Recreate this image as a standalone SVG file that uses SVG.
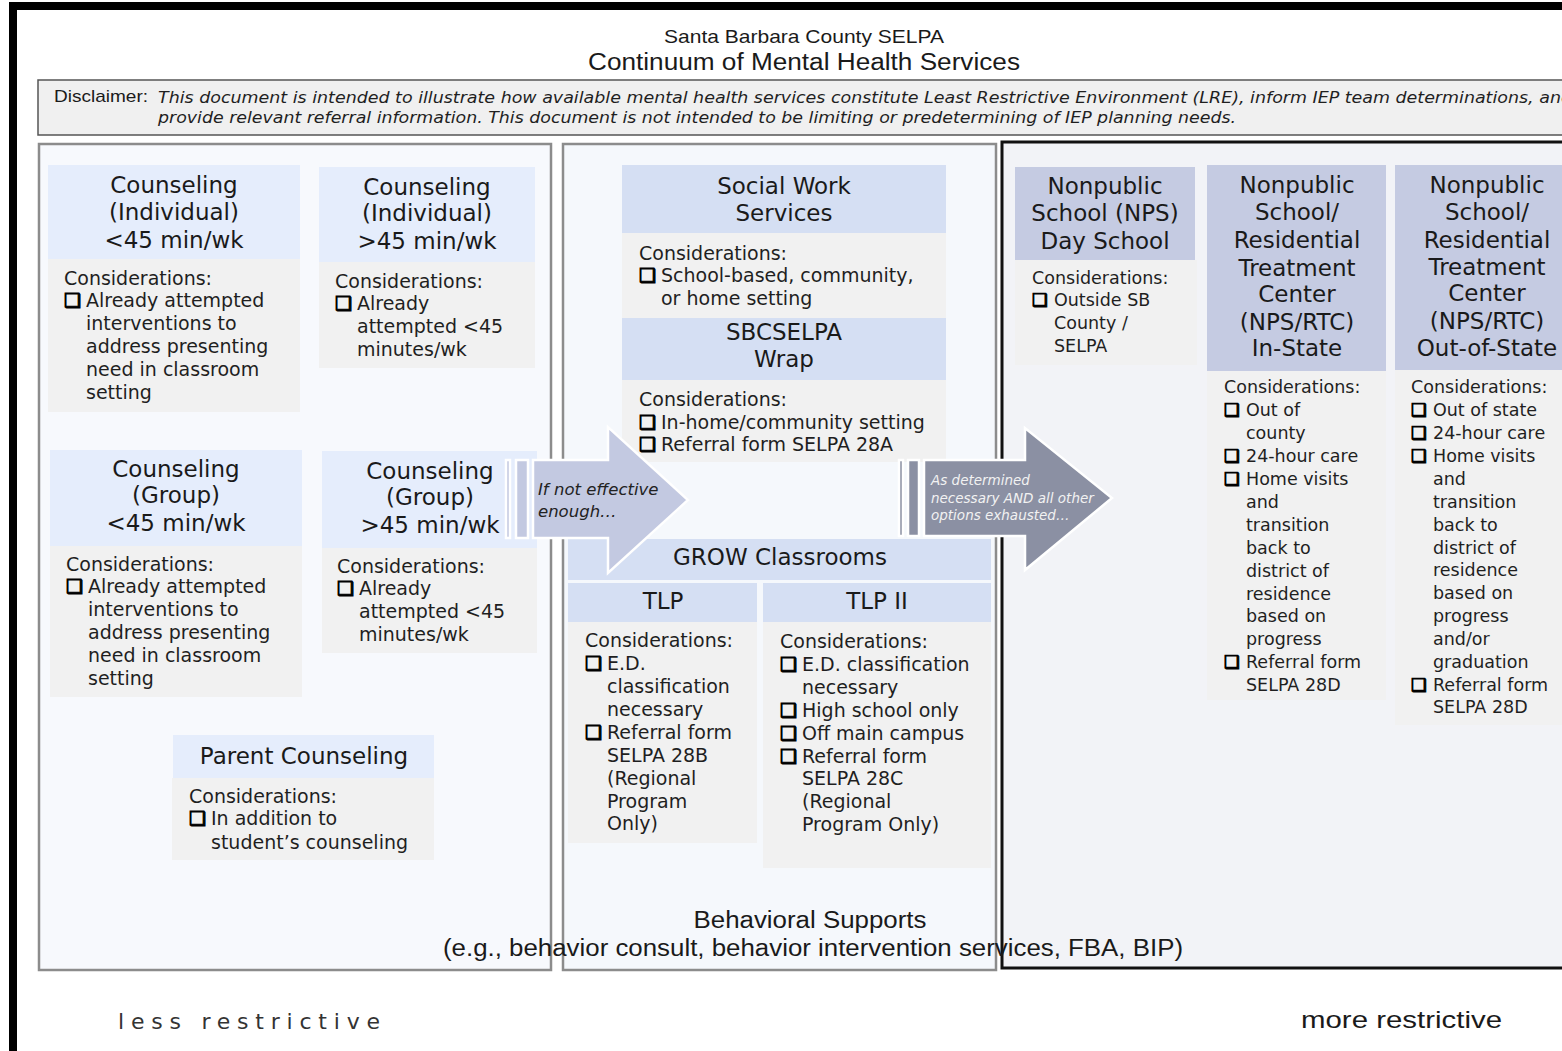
<svg xmlns="http://www.w3.org/2000/svg" width="1562" height="1051" viewBox="0 0 1562 1051">
<style>
.h{font-family:"DejaVu Sans",sans-serif;font-size:23px;fill:#1a1a1a;text-anchor:middle}
.b{font-family:"DejaVu Sans",sans-serif;font-size:19px;fill:#1f1f1f}
.r{font-family:"DejaVu Sans",sans-serif;font-size:17.5px;fill:#1f1f1f}
.c{font-family:"DejaVu Sans",sans-serif;font-weight:bold;fill:#000;stroke:#000;stroke-width:1.1}
.hb{fill:#e5edfc}
.hm{fill:#d5dff3}
.hr{fill:#c5cbe2}
.bd{fill:#f1f1f1}
.t{font-family:"Liberation Sans",sans-serif;fill:#1a1a1a}
.it{font-family:"DejaVu Sans",sans-serif;font-style:italic}
</style>
<rect x="0" y="0" width="1562" height="1051" fill="#ffffff"/>
<rect x="13" y="6" width="1600" height="1100" fill="#ffffff" stroke="#000" stroke-width="8"/>

<g id="title">
<text class="t" x="804" y="43" font-size="19" text-anchor="middle" textLength="280" lengthAdjust="spacingAndGlyphs">Santa Barbara County SELPA</text>
<text class="t" x="804" y="70" font-size="23" text-anchor="middle" textLength="432" lengthAdjust="spacingAndGlyphs">Continuum of Mental Health Services</text>
</g>

<g id="disclaimer">
<rect x="38" y="80" width="1540" height="55" fill="#f0f0f0" stroke="#555" stroke-width="1.5"/>
<text class="t" x="54" y="102" font-size="17" textLength="94" lengthAdjust="spacingAndGlyphs" fill="#000">Disclaimer:</text>
<text class="it" x="158" y="103" font-size="16" fill="#1f1f1f" textLength="1414" lengthAdjust="spacingAndGlyphs">This document is intended to illustrate how available mental health services constitute Least Restrictive Environment (LRE), inform IEP team determinations, and</text>
<text class="it" x="158" y="123" font-size="16" fill="#1f1f1f" textLength="1078" lengthAdjust="spacingAndGlyphs">provide relevant referral information. This document is not intended to be limiting or predetermining of IEP planning needs.</text>
</g>

<g id="panels">
<rect x="39" y="144" width="512" height="826" fill="#f7f9fd" stroke="#8c8c8c" stroke-width="2.5"/>
<rect x="563" y="144" width="433" height="826" fill="#f5f8fc" stroke="#8c8c8c" stroke-width="2.5"/>
<rect x="1002" y="142" width="600" height="826" fill="#f2f3f7" stroke="#111" stroke-width="3"/>
</g>

<g id="node-ind-lt45">
<rect class="hb" x="48" y="165" width="252" height="94"/>
<rect class="bd" x="48" y="259" width="252" height="153"/>
<text class="h" x="174" y="193">Counseling</text>
<text class="h" x="174" y="220">(Individual)</text>
<text class="h" x="174" y="248">&lt;45 min/wk</text>
<text class="b" x="64" y="285">Considerations:</text>
<text class="b c" x="64" y="307">❑</text><text class="b" x="86" y="307">Already attempted</text>
<text class="b" x="86" y="330">interventions to</text>
<text class="b" x="86" y="353">address presenting</text>
<text class="b" x="86" y="376">need in classroom</text>
<text class="b" x="86" y="399">setting</text>
</g>

<g id="node-ind-gt45">
<rect class="hb" x="319" y="167" width="216" height="95"/>
<rect class="bd" x="319" y="262" width="216" height="106"/>
<text class="h" x="427" y="195">Counseling</text>
<text class="h" x="427" y="221">(Individual)</text>
<text class="h" x="427" y="249">&gt;45 min/wk</text>
<text class="b" x="335" y="288">Considerations:</text>
<text class="b c" x="335" y="310">❑</text><text class="b" x="357" y="310">Already</text>
<text class="b" x="357" y="333">attempted &lt;45</text>
<text class="b" x="357" y="356">minutes/wk</text>
</g>

<g id="node-grp-lt45">
<rect class="hb" x="50" y="450" width="252" height="96"/>
<rect class="bd" x="50" y="546" width="252" height="151"/>
<text class="h" x="176" y="477">Counseling</text>
<text class="h" x="176" y="503">(Group)</text>
<text class="h" x="176" y="531">&lt;45 min/wk</text>
<text class="b" x="66" y="571">Considerations:</text>
<text class="b c" x="66" y="593">❑</text><text class="b" x="88" y="593">Already attempted</text>
<text class="b" x="88" y="616">interventions to</text>
<text class="b" x="88" y="639">address presenting</text>
<text class="b" x="88" y="662">need in classroom</text>
<text class="b" x="88" y="685">setting</text>
</g>

<g id="node-grp-gt45">
<rect class="hb" x="322" y="451" width="215" height="97"/>
<rect class="bd" x="322" y="548" width="215" height="105"/>
<text class="h" x="430" y="479">Counseling</text>
<text class="h" x="430" y="505">(Group)</text>
<text class="h" x="430" y="533">&gt;45 min/wk</text>
<text class="b" x="337" y="573">Considerations:</text>
<text class="b c" x="337" y="595">❑</text><text class="b" x="359" y="595">Already</text>
<text class="b" x="359" y="618">attempted &lt;45</text>
<text class="b" x="359" y="641">minutes/wk</text>
</g>

<g id="node-parent">
<rect class="hb" x="173" y="735" width="261" height="43"/>
<rect class="bd" x="172" y="778" width="262" height="82"/>
<text class="h" x="304" y="764">Parent Counseling</text>
<text class="b" x="189" y="803">Considerations:</text>
<text class="b c" x="189" y="825">❑</text><text class="b" x="211" y="825">In addition to</text>
<text class="b" x="211" y="849">student’s counseling</text>
</g>

<g id="node-social-work">
<rect class="hm" x="622" y="165" width="324" height="68"/>
<rect class="bd" x="622" y="233" width="324" height="85"/>
<text class="h" x="784" y="194">Social Work</text>
<text class="h" x="784" y="221">Services</text>
<text class="b" x="639" y="260">Considerations:</text>
<text class="b c" x="639" y="282">❑</text><text class="b" x="661" y="282">School-based, community,</text>
<text class="b" x="661" y="305">or home setting</text>
</g>

<g id="node-wrap">
<rect class="hm" x="622" y="318" width="324" height="62"/>
<rect class="bd" x="622" y="380" width="324" height="82"/>
<text class="h" x="784" y="340">SBCSELPA</text>
<text class="h" x="784" y="367">Wrap</text>
<text class="b" x="639" y="406">Considerations:</text>
<text class="b c" x="639" y="429">❑</text><text class="b" x="661" y="429">In-home/community setting</text>
<text class="b c" x="639" y="451">❑</text><text class="b" x="661" y="451">Referral form SELPA 28A</text>
</g>

<g id="node-grow">
<rect class="hm" x="568" y="539" width="423" height="41"/>
<text class="h" x="780" y="565" font-size="22">GROW Classrooms</text>
</g>

<g id="node-tlp">
<rect class="hm" x="568" y="583" width="189" height="39"/>
<rect class="bd" x="568" y="622" width="189" height="221"/>
<text class="h" x="663" y="609">TLP</text>
<text class="b" x="585" y="647">Considerations:</text>
<text class="b c" x="585" y="670">❑</text><text class="b" x="607" y="670">E.D.</text>
<text class="b" x="607" y="693">classification</text>
<text class="b" x="607" y="716">necessary</text>
<text class="b c" x="585" y="739">❑</text><text class="b" x="607" y="739">Referral form</text>
<text class="b" x="607" y="762">SELPA 28B</text>
<text class="b" x="607" y="785">(Regional</text>
<text class="b" x="607" y="808">Program</text>
<text class="b" x="607" y="830">Only)</text>
</g>

<g id="node-tlp2">
<rect class="hm" x="763" y="583" width="228" height="39"/>
<rect class="bd" x="763" y="622" width="228" height="246"/>
<text class="h" x="877" y="609">TLP II</text>
<text class="b" x="780" y="648">Considerations:</text>
<text class="b c" x="780" y="671">❑</text><text class="b" x="802" y="671">E.D. classification</text>
<text class="b" x="802" y="694">necessary</text>
<text class="b c" x="780" y="717">❑</text><text class="b" x="802" y="717">High school only</text>
<text class="b c" x="780" y="740">❑</text><text class="b" x="802" y="740">Off main campus</text>
<text class="b c" x="780" y="763">❑</text><text class="b" x="802" y="763">Referral form</text>
<text class="b" x="802" y="785">SELPA 28C</text>
<text class="b" x="802" y="808">(Regional</text>
<text class="b" x="802" y="831">Program Only)</text>
</g>

<g id="node-behavioral">
<text class="t" x="810" y="928" font-size="23" text-anchor="middle" textLength="233" lengthAdjust="spacingAndGlyphs">Behavioral Supports</text>
<text class="t" x="813" y="956" font-size="23" text-anchor="middle" textLength="740" lengthAdjust="spacingAndGlyphs">(e.g., behavior consult, behavior intervention services, FBA, BIP)</text>
</g>

<g id="node-nps-day">
<rect class="hr" x="1015" y="167" width="180" height="93"/>
<rect class="bd" x="1015" y="260" width="182" height="105"/>
<text class="h" x="1105" y="194">Nonpublic</text>
<text class="h" x="1105" y="221">School (NPS)</text>
<text class="h" x="1105" y="249">Day School</text>
<text class="r" x="1032" y="284">Considerations:</text>
<text class="r c" x="1032" y="306">❑</text><text class="r" x="1054" y="306">Outside SB</text>
<text class="r" x="1054" y="329">County /</text>
<text class="r" x="1054" y="352">SELPA</text>
</g>

<g id="node-rtc-in">
<rect class="hr" x="1207" y="165" width="179" height="206"/>
<rect class="bd" x="1207" y="371" width="179" height="329"/>
<text class="h" x="1297" y="193">Nonpublic</text>
<text class="h" x="1297" y="220">School/</text>
<text class="h" x="1297" y="248">Residential</text>
<text class="h" x="1297" y="276">Treatment</text>
<text class="h" x="1297" y="302">Center</text>
<text class="h" x="1297" y="330">(NPS/RTC)</text>
<text class="h" x="1297" y="356">In-State</text>
<text class="r" x="1224" y="393">Considerations:</text>
<text class="r c" x="1224" y="416">❑</text><text class="r" x="1246" y="416">Out of</text>
<text class="r" x="1246" y="439">county</text>
<text class="r c" x="1224" y="462">❑</text><text class="r" x="1246" y="462">24-hour care</text>
<text class="r c" x="1224" y="485">❑</text><text class="r" x="1246" y="485">Home visits</text>
<text class="r" x="1246" y="508">and</text>
<text class="r" x="1246" y="531">transition</text>
<text class="r" x="1246" y="554">back to</text>
<text class="r" x="1246" y="577">district of</text>
<text class="r" x="1246" y="600">residence</text>
<text class="r" x="1246" y="622">based on</text>
<text class="r" x="1246" y="645">progress</text>
<text class="r c" x="1224" y="668">❑</text><text class="r" x="1246" y="668">Referral form</text>
<text class="r" x="1246" y="691">SELPA 28D</text>
</g>

<g id="node-rtc-out">
<rect class="hr" x="1395" y="165" width="180" height="205"/>
<rect class="bd" x="1395" y="370" width="180" height="355"/>
<text class="h" x="1487" y="193">Nonpublic</text>
<text class="h" x="1487" y="220">School/</text>
<text class="h" x="1487" y="248">Residential</text>
<text class="h" x="1487" y="275">Treatment</text>
<text class="h" x="1487" y="301">Center</text>
<text class="h" x="1487" y="329">(NPS/RTC)</text>
<text class="h" x="1487" y="356">Out-of-State</text>
<text class="r" x="1411" y="393">Considerations:</text>
<text class="r c" x="1411" y="416">❑</text><text class="r" x="1433" y="416">Out of state</text>
<text class="r c" x="1411" y="439">❑</text><text class="r" x="1433" y="439">24-hour care</text>
<text class="r c" x="1411" y="462">❑</text><text class="r" x="1433" y="462">Home visits</text>
<text class="r" x="1433" y="485">and</text>
<text class="r" x="1433" y="508">transition</text>
<text class="r" x="1433" y="531">back to</text>
<text class="r" x="1433" y="554">district of</text>
<text class="r" x="1433" y="576">residence</text>
<text class="r" x="1433" y="599">based on</text>
<text class="r" x="1433" y="622">progress</text>
<text class="r" x="1433" y="645">and/or</text>
<text class="r" x="1433" y="668">graduation</text>
<text class="r c" x="1411" y="691">❑</text><text class="r" x="1433" y="691">Referral form</text>
<text class="r" x="1433" y="713">SELPA 28D</text>
</g>

<g id="connectors">
<g id="arrow-not-effective" stroke="#ffffff" stroke-width="2.5" fill="#c3c9e1">
<rect x="506" y="460" width="4" height="78"/>
<rect x="516" y="460" width="12" height="78"/>
<path d="M533,460 H608 V427 L688,500 L608,573 V538 H533 Z"/>
</g>
<text class="it" x="538" y="495" font-size="16.5" fill="#222">If not effective</text>
<text class="it" x="538" y="517" font-size="16.5" fill="#222">enough…</text>
<g id="arrow-exhausted" stroke="#ffffff" stroke-width="2.5" fill="#8b90a3">
<rect x="899" y="460" width="4" height="76"/>
<rect x="908" y="460" width="11" height="76"/>
<path d="M924,460 H1025 V428 L1112,498 L1025,570 V536 H924 Z"/>
</g>
<text class="it" x="931" y="485" font-size="13.5" fill="#f2f2f2">As determined</text>
<text class="it" x="931" y="503" font-size="13.5" fill="#f2f2f2">necessary AND all other</text>
<text class="it" x="931" y="520" font-size="13.5" fill="#f2f2f2">options exhausted…</text>
</g>

<g id="scale">
<text x="118" y="1029" font-family="DejaVu Sans, sans-serif" font-size="22" fill="#333" textLength="262" lengthAdjust="spacing">less restrictive</text>
<text class="t" x="1301" y="1028" font-size="24" textLength="201" lengthAdjust="spacingAndGlyphs">more restrictive</text>
</g>
</svg>
